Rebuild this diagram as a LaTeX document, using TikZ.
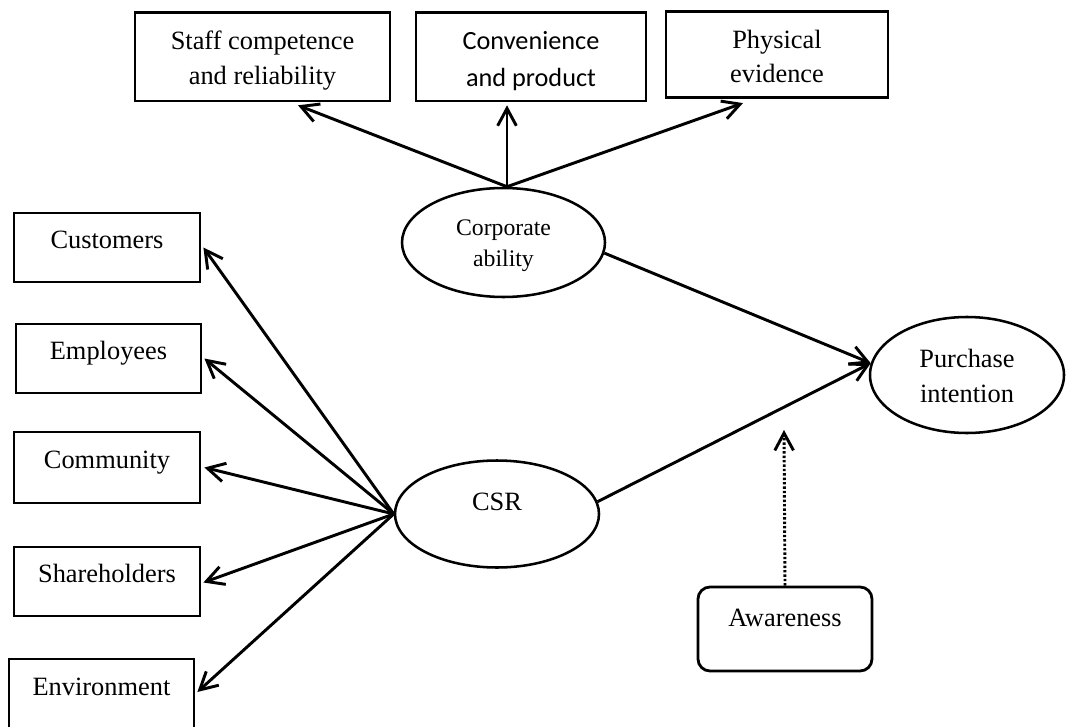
\documentclass[tikz,border=0pt]{standalone}
\usepackage{fontspec}
\setmainfont{Liberation Serif}
\newfontfamily\calfont{Carlito}
\usetikzlibrary{arrows.meta,calc,shapes.geometric}
\newcommand\twoline[2]{\begin{tabular}[b]{@{}c@{}}#1\\#2\end{tabular}}
\newcommand\tnrsize{\fontsize{19.8}{25.9}\selectfont}
\newcommand\smallsize{\fontsize{17.8}{24}\selectfont}
\newcommand\calsize{\calfont\fontsize{19.7}{27.75}\selectfont}
\begin{document}
\begin{tikzpicture}[x=0.75pt,y=-0.75pt,
  box/.style={draw,line width=2.1pt,rectangle,inner sep=0pt,font=\tnrsize},
  oval/.style={draw,ellipse,line width=1.9pt,inner sep=0pt,font=\tnrsize},
  arr/.style={line width=2.2pt,-{Straight Barb[length=13pt,width=14pt]}},
  dotarr/.style={line width=2.2pt,dash pattern=on 1.8pt off 1.5pt,-{Straight Barb[length=13pt,width=14pt]}}]
\useasboundingbox (0,0) rectangle (1066,727);
\clip (0,0) rectangle (1066,727);
% top boxes
\node[box,minimum width=191.25pt,minimum height=66.2pt,text height=46.25pt,text depth=5pt] (staff) at (262.5,56.8) {\twoline{Staff competence}{and reliability}};
\node[box,font=\calsize,minimum width=172.5pt,minimum height=66.2pt,text height=50.3pt,text depth=5pt] (conv) at (531,56.8) {\twoline{Convenience}{and product}};
\node[box,minimum width=166.5pt,minimum height=64.5pt,text height=47.45pt,text depth=5pt] (phys) at (777,54.7) {\twoline{Physical}{evidence}};
% left boxes
\node[box,minimum width=139.5pt,minimum height=51.75pt,text height=12pt,text depth=10pt] (cust) at (107,247.5) {Customers};
\node[box,minimum width=138.75pt,minimum height=51.75pt,text height=12pt,text depth=10pt] (emp) at (108.5,358.5) {Employees};
\node[box,minimum width=139.5pt,minimum height=53.25pt,text height=12pt,text depth=10pt] (comm) at (107,467.5) {Community};
\node[box,minimum width=139.5pt,minimum height=51.75pt,text height=12pt,text depth=10pt] (share) at (107,581.5) {Shareholders};
\node[box,minimum width=138.75pt,minimum height=52.5pt,text height=12pt,text depth=10pt] (env) at (101.5,694) {Environment};
% ellipses
\node[oval,font=\smallsize,minimum width=152.25pt,minimum height=81.75pt,text height=41.75pt,text depth=5pt] (corp) at (503.5,242.5) {\twoline{Corporate}{ability}};
\node[oval,minimum width=145.5pt,minimum height=87pt,text height=45.5pt,text depth=5pt] (pi) at (967,375) {\twoline{Purchase}{intention}};
\node[oval,minimum width=153pt,minimum height=80.25pt,text height=8pt,text depth=14pt] (csr) at (497,514) {CSR};
% awareness
\node[box,rounded corners=9pt,minimum width=130.5pt,minimum height=63pt,text height=10pt,text depth=14.5pt] (aw) at (785,629) {Awareness};
% connectors
\coordinate (ctop) at ($(corp.north)+(3.5,0)$);
\draw[arr] (ctop) -- ($(staff.south)+(35.5,3)$);
\draw[arr] (ctop) -- ($(conv.south)+(-24,3)$);
\draw[arr] (ctop) -- ($(phys.south)+(-34,4)$);
\draw[arr] (csr.west) -- ($(cust.east)+(2,0)$);
\draw[arr] (csr.west) -- ($(emp.east)+(2,0)$);
\draw[arr] (csr.west) -- ($(comm.east)+(3,0)$);
\draw[arr] (csr.west) -- ($(share.east)+(2,1)$);
\draw[arr] (csr.west) -- ($(env.east)+(2,-2)$);
\draw[arr] (corp.-6.6) -- (pi.173);
\draw[arr] (csr.7) -- (pi.173);
\coordinate (awtip) at (784,430);
\draw[dotarr] (aw.north) -- (awtip);
\end{tikzpicture}
\end{document}
